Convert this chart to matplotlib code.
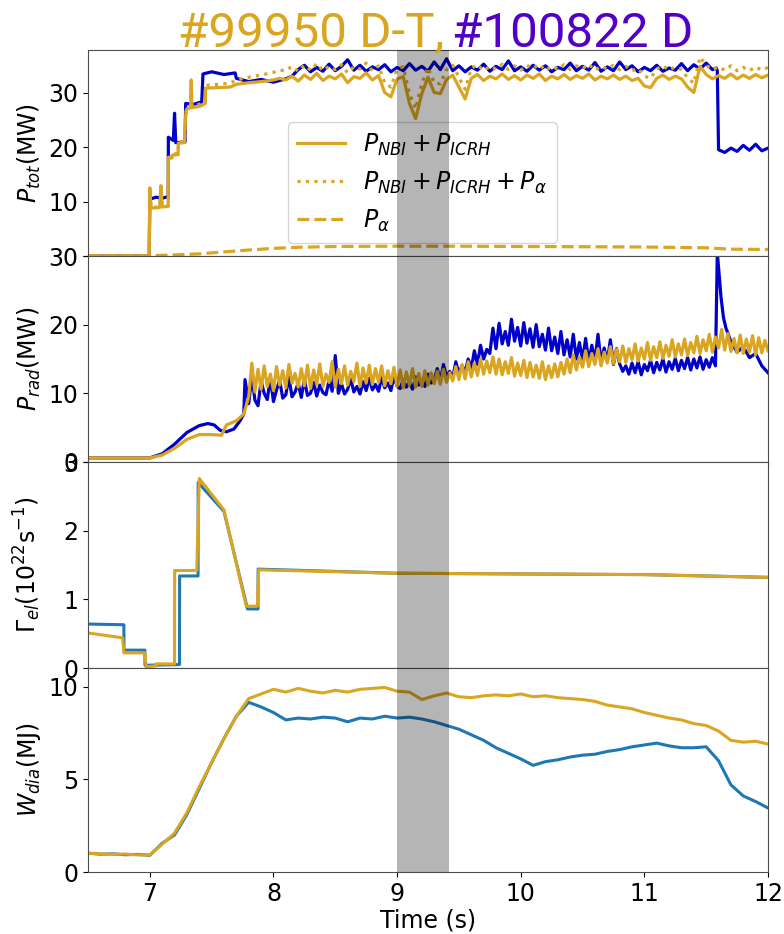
import matplotlib.pyplot as plt
import numpy as np

# ---- colours ----
gold = '#DAA520'
dblue = '#0000C8'
lblue = '#1f77b4'

# ---- P_tot, shot 100822 (D) ----
ptot_d_t_ramp = [6.5, 6.995, 7.0, 7.05, 7.1, 7.149, 7.15, 7.19, 7.2, 7.21, 7.285, 7.29, 7.35,
                 7.42, 7.43, 7.5, 7.6, 7.69, 7.7, 7.8, 7.9, 8.0, 8.1, 8.15]
ptot_d_ramp = [0, 0, 10.4, 10.8, 10.6, 10.9, 21.8, 21.2, 26.2, 20.8, 20.9, 28.0, 27.8,
               28.3, 33.4, 33.8, 33.3, 33.6, 32.6, 32.0, 32.4, 31.9, 32.5, 33.0]
ptot_d_grid = [34.2, 35.0, 33.8, 34.6, 33.9, 35.2, 34.0, 34.8, 36.0, 34.1, 35.0, 33.9, 34.7, 34.2,
               35.1, 33.8, 34.6, 34.0, 35.3, 34.1, 34.8, 33.9, 35.6, 34.2, 36.2, 34.0, 34.9, 33.8,
               34.7, 34.1, 35.2, 33.9, 34.8, 34.2, 35.8, 34.0, 34.7, 33.9, 35.0, 34.1, 34.9, 33.8,
               34.6, 34.2, 35.4, 34.0, 34.8, 34.1, 35.5, 33.9, 34.7, 34.0, 35.6, 34.2, 34.9, 33.8,
               34.6, 34.0, 35.0, 33.9, 34.5, 34.1, 35.3, 34.0, 35.1, 34.3, 35.4, 34.2]  # 8.20 .. step 0.05
ptot_d_t_tail = [11.58, 11.59, 11.6, 11.65, 11.7, 11.75, 11.8, 11.85, 11.9, 11.95, 12.0]
ptot_d_tail = [34.5, 34.0, 19.5, 19.0, 19.8, 19.2, 20.3, 19.4, 20.5, 19.3, 19.8]

# ---- P_NBI + P_ICRH (+ P_alpha), shot 99950 (D-T) ----
ptot_dt_t_ramp = [6.5, 6.995, 7.0, 7.01, 7.08, 7.09, 7.1, 7.149, 7.15, 7.18, 7.181, 7.229, 7.23,
                  7.28, 7.29, 7.3, 7.33, 7.335, 7.34, 7.41, 7.449, 7.45, 7.55, 7.65, 7.7, 7.8,
                  7.9, 8.0, 8.05]
pnbi_icrh_ramp = [0, 0, 12.4, 8.8, 8.9, 12.8, 9.0, 9.1, 17.9, 18.0, 18.5, 18.6, 20.7, 20.8,
                  25.9, 27.0, 27.2, 32.0, 27.2, 27.5, 28.0, 30.8, 30.9, 31.0, 31.5, 31.8, 32.0,
                  32.3, 32.6]
pnbi_icrh_grid = [32.3, 33.0, 32.1, 33.2, 32.4, 33.5, 32.2, 33.0, 32.5, 33.4, 31.8, 32.9, 32.6,
                  33.6, 32.3, 33.1, 30.0, 29.2, 32.5, 32.9, 28.0, 25.2, 29.8, 32.8, 30.0, 29.8,
                  32.4, 33.2, 31.0, 28.8, 32.6, 33.3, 32.2, 33.0, 32.5, 33.4, 32.4, 33.1, 32.3,
                  33.2, 32.6, 33.4, 32.2, 33.0, 32.5, 33.3, 32.4, 33.1, 32.6, 33.4, 32.3, 33.0,
                  32.5, 33.2, 32.4, 33.0, 32.2, 32.6, 31.2, 30.9, 32.6, 33.2, 32.4, 33.0, 32.5,
                  31.0, 30.0, 34.8, 33.3, 32.5, 33.1, 32.6, 33.4, 32.5, 33.2, 32.6, 33.3, 32.7,
                  33.2]  # 8.10 .. 12.00 step 0.05
ptot_alpha_ramp = [0, 0, 12.5, 8.9, 9.0, 12.9, 9.1, 9.2, 18.1, 18.2, 18.7, 18.8, 20.9, 21.0,
                   26.2, 27.3, 27.5, 32.3, 27.5, 27.9, 28.4, 31.3, 31.5, 31.7, 32.3, 32.8, 33.2,
                   33.7, 34.1]
ptot_alpha_grid = [34.0, 34.8, 33.9, 35.0, 34.1, 35.3, 34.0, 34.8, 34.2, 35.1, 33.6, 34.7, 34.3,
                   35.4, 34.0, 34.9, 31.8, 31.0, 34.3, 34.7, 29.8, 27.0, 31.6, 34.6, 31.8, 31.6,
                   34.2, 35.0, 32.8, 30.6, 34.4, 35.1, 34.0, 34.8, 34.3, 35.2, 34.2, 34.9, 34.1,
                   35.0, 34.4, 35.2, 34.0, 34.8, 34.3, 35.1, 34.2, 34.9, 34.4, 35.2, 34.1, 34.8,
                   34.3, 35.0, 34.2, 34.8, 34.0, 34.4, 33.0, 32.6, 34.3, 34.9, 34.1, 34.7, 34.2,
                   32.7, 31.7, 36.5, 35.0, 34.2, 34.7, 34.1, 34.9, 34.0, 34.6, 34.0, 34.7, 34.1,
                   34.6]
palpha_t = [6.5, 7.0, 7.2, 7.4, 7.6, 7.8, 8.0, 8.2, 8.5, 9.0, 9.5, 10.0, 10.5, 11.0, 11.5, 11.7, 12.0]
palpha = [0, 0.05, 0.2, 0.4, 0.75, 1.1, 1.4, 1.6, 1.75, 1.8, 1.8, 1.75, 1.7, 1.65, 1.5, 1.25, 1.2]

# ---- P_rad ----
prad_d_t_ramp = [6.5, 7.0, 7.1, 7.2, 7.3, 7.4, 7.47, 7.52, 7.57, 7.62, 7.68, 7.73, 7.76, 7.77]
prad_d_ramp = [0.6, 0.6, 1.2, 2.6, 4.3, 5.3, 5.6, 5.4, 4.6, 4.4, 4.8, 6.0, 7.0, 12.0]
prad_d_grid = [  # 7.800 .. 11.575 step 0.025
    8.5, 12.6, 9.0, 8.2, 11.8, 10.0, 9.1, 12.3, 8.8, 10.5, 11.9, 9.3, 9.8, 12.4, 9.5, 10.2, 11.5, 9.4, 12.0, 9.7,
    10.0, 11.6, 9.6, 11.2, 10.1, 9.8, 11.9, 10.3, 15.5, 10.0, 11.4, 9.9, 10.6, 12.1, 10.2, 11.0, 9.9, 11.7, 10.4, 12.2,
    10.5, 11.3, 10.3, 12.3, 10.8, 11.5, 10.4, 12.5, 11.0, 10.7, 12.0, 10.9, 11.6, 10.6, 12.4, 11.2, 11.8, 11.0, 12.8, 11.5,
    12.0, 13.6, 11.8, 14.2, 12.4, 13.2, 12.2, 14.6, 12.9, 14.0, 13.1, 15.0, 13.6, 16.2, 14.2, 17.0, 15.0, 16.4, 15.8, 19.5,
    16.5, 20.2, 17.2, 19.0, 17.0, 20.8, 17.6, 19.6, 16.9, 20.3, 17.3, 19.4, 16.7, 20.0, 16.8, 18.6, 16.3, 19.5, 16.2, 18.2,
    15.8, 19.0, 15.6, 17.8, 15.3, 18.6, 15.0, 17.4, 14.8, 18.0, 14.6, 17.0, 14.7, 18.6, 14.5, 16.6, 14.6, 17.8, 14.2, 16.5,
    14.3, 13.2, 14.0, 12.8, 14.4, 13.0, 14.6, 12.7, 14.2, 13.3, 14.8, 13.0, 14.5, 13.4, 15.0, 13.1, 14.6, 13.5, 15.1, 13.3,
    14.8, 13.6, 15.2, 13.4, 15.0, 13.7, 15.3, 13.5, 14.9, 13.8, 15.2, 14.0]
prad_d_t_tail = [11.59, 11.62, 11.64, 11.66, 11.7, 11.75, 11.8, 11.85, 11.9, 11.95, 12.0]
prad_d_tail = [30.5, 24.0, 21.0, 19.5, 17.5, 16.0, 16.8, 15.2, 15.8, 14.0, 13.0]

prad_dt_t_ramp = [6.5, 7.0, 7.1, 7.2, 7.3, 7.4, 7.5, 7.58, 7.62, 7.7, 7.76]
prad_dt_ramp = [0.6, 0.6, 1.0, 2.0, 3.3, 4.0, 4.0, 3.9, 5.4, 6.0, 7.0]
prad_dt_grid = [  # 7.800 .. 12.000 step 0.025
    9.5, 14.4, 10.2, 13.5, 10.6, 14.0, 11.0, 12.8, 10.4, 13.9, 11.2, 13.3, 10.8, 14.2, 11.5, 12.9, 10.9, 13.6, 11.1, 14.1,
    10.7, 13.4, 11.3, 14.3, 11.0, 12.8, 11.6, 14.6, 10.9, 13.5, 11.4, 14.0, 11.2, 13.2, 11.7, 14.4, 11.0, 13.7, 11.5, 14.1,
    11.3, 13.6, 11.6, 14.0, 11.1, 13.3, 11.4, 13.8, 11.0, 13.4, 10.8, 13.1, 11.2, 13.6, 10.9, 12.9, 11.0, 13.3, 11.2, 13.0,
    11.4, 13.2, 11.3, 13.5, 11.6, 13.0, 11.8, 13.9, 12.0, 14.2, 12.1, 14.6, 12.4, 14.4, 12.6, 15.0, 12.8, 14.7, 13.0, 15.3,
    12.8, 15.0, 12.7, 14.6, 12.9, 15.2, 12.5, 14.4, 12.6, 14.8, 12.3, 14.5, 12.4, 14.1, 12.2, 14.6, 12.0, 14.0, 12.3, 14.3,
    12.4, 14.5, 12.8, 15.0, 13.0, 15.6, 13.4, 15.3, 13.8, 16.2, 13.9, 15.8, 14.2, 16.5, 14.0, 16.0, 14.4, 16.8, 14.3, 16.4,
    14.6, 16.9, 14.5, 16.5, 14.9, 17.2, 14.7, 16.6, 15.0, 17.4, 14.8, 16.8, 15.2, 17.5, 15.1, 17.0, 15.4, 17.8, 15.3, 17.2,
    15.6, 17.9, 15.5, 17.4, 15.9, 18.3, 15.8, 17.8, 16.2, 18.6, 16.0, 18.2, 16.6, 19.3, 16.3, 18.7, 16.1, 18.0, 15.9, 18.5,
    15.8, 17.9, 16.0, 18.4, 15.6, 18.1, 15.9, 17.7, 16.2]

# ---- electron fuelling rate ----
gam_d_t = [6.5, 6.79, 6.791, 6.96, 6.961, 7.24, 7.241, 7.39, 7.391, 7.6, 7.79, 7.875, 7.876,
           9.0, 10.0, 11.0, 12.0]
gam_d = [0.64, 0.63, 0.26, 0.26, 0.04, 0.05, 1.34, 1.34, 2.7, 2.28, 0.86, 0.86, 1.44, 1.38,
         1.37, 1.36, 1.32]
gam_dt_t = [6.5, 6.78, 6.79, 6.96, 6.97, 7.05, 7.051, 7.2, 7.201, 7.38, 7.4, 7.6, 7.78, 7.87,
            7.88, 9.0, 10.0, 11.0, 12.0]
gam_dt = [0.51, 0.44, 0.22, 0.22, 0.02, 0.03, 0.06, 0.06, 1.42, 1.42, 2.76, 2.3, 0.9, 0.9, 1.43,
          1.38, 1.37, 1.36, 1.32]

# ---- diamagnetic energy, 6.5 .. 12.0 step 0.1 ----
wdia_dt = [1.0, 0.98, 0.95, 0.97, 0.92, 0.92, 1.5, 2.1, 3.2, 4.6, 5.9, 7.2, 8.4, 9.35, 9.6, 9.85,
           9.7, 9.9, 9.75, 9.65, 9.8, 9.7, 9.85, 9.9, 9.95, 9.75, 9.7, 9.3, 9.5, 9.65, 9.45, 9.4,
           9.5, 9.55, 9.5, 9.6, 9.45, 9.5, 9.4, 9.35, 9.3, 9.2, 9.0, 8.9, 8.8, 8.6, 8.45, 8.3,
           8.2, 8.0, 7.9, 7.6, 7.1, 7.0, 7.05, 6.9]
wdia_d = [1.02, 0.96, 0.98, 0.93, 0.95, 0.9, 1.55, 2.0, 3.1, 4.5, 5.9, 7.2, 8.4, 9.15, 8.9, 8.6,
          8.2, 8.3, 8.25, 8.35, 8.3, 8.1, 8.3, 8.25, 8.4, 8.3, 8.35, 8.25, 8.1, 7.9, 7.7, 7.4,
          7.1, 6.7, 6.4, 6.1, 5.75, 5.95, 6.05, 6.2, 6.3, 6.35, 6.5, 6.6, 6.75, 6.85, 6.95, 6.8,
          6.7, 6.7, 6.75, 6.0, 4.7, 4.1, 3.8, 3.45]


def grid(t0, vals, dt=0.05):
    return t0 + dt * np.arange(len(vals))


if __name__ == "__main__":
    plt.rcParams['font.size'] = 17
    plt.rcParams['axes.edgecolor'] = '0.3'

    fig = plt.figure(figsize=(7.84, 9.34), dpi=100)
    W, H = 784, 934
    tops = [50, 256, 462, 668]
    hts = [206, 206, 206, 204]
    axes = []
    for top, h in zip(tops, hts):
        ax = fig.add_axes([88 / W, 1 - (top + h) / H, 680 / W, h / H],
                          sharex=axes[0] if axes else None)
        axes.append(ax)
    ax1, ax2, ax3, ax4 = axes

    # P_tot
    ax1.plot(np.concatenate([ptot_d_t_ramp, grid(8.2, ptot_d_grid), ptot_d_t_tail]),
             np.concatenate([ptot_d_ramp, ptot_d_grid, ptot_d_tail]), color=dblue, lw=2.3)
    t_dt = np.concatenate([ptot_dt_t_ramp, grid(8.1, pnbi_icrh_grid)])
    l1, = ax1.plot(t_dt, np.concatenate([pnbi_icrh_ramp, pnbi_icrh_grid]), color=gold, lw=2.3)
    l2, = ax1.plot(t_dt, np.concatenate([ptot_alpha_ramp, ptot_alpha_grid]), color=gold, lw=2.3, ls=':')
    l3, = ax1.plot(palpha_t, palpha, color=gold, lw=2.3, ls='--')
    ax1.set_ylim(0, 37.8)
    ax1.set_yticks([0, 10, 20, 30])
    ax1.set_yticklabels(['', '10', '20', '30'])
    ax1.set_ylabel(r'$P_{tot}$(MW)')
    ax1.legend([l1, l2, l3], [r'$P_{NBI}+P_{ICRH}$', r'$P_{NBI}+P_{ICRH}+P_{\alpha}$', r'$P_{\alpha}$'],
               loc='lower left', bbox_to_anchor=(0.294, 0.063), borderaxespad=0)

    # P_rad
    ax2.plot(np.concatenate([prad_d_t_ramp, grid(7.8, prad_d_grid, 0.025), prad_d_t_tail]),
             np.concatenate([prad_d_ramp, prad_d_grid, prad_d_tail]), color=dblue, lw=2.3)
    ax2.plot(np.concatenate([prad_dt_t_ramp, grid(7.8, prad_dt_grid, 0.025)]),
             np.concatenate([prad_dt_ramp, prad_dt_grid]), color=gold, lw=2.3)
    ax2.set_ylim(0, 30)
    ax2.set_ylabel(r'$P_{rad}$(MW)')

    # Gamma
    ax3.plot(gam_d_t, gam_d, color=lblue, lw=2.2)
    ax3.plot(gam_dt_t, gam_dt, color=gold, lw=2.2)
    ax3.set_ylim(0, 3)
    ax3.set_ylabel(r'$\Gamma_{el}(10^{22}\mathrm{s}^{-1})$')

    # W_dia
    t_w = 6.5 + 0.1 * np.arange(len(wdia_d))
    ax4.plot(t_w, wdia_d, color=lblue, lw=2.2)
    ax4.plot(t_w, wdia_dt, color=gold, lw=2.2)
    ax4.set_ylim(0, 11)
    ax4.set_ylabel(r'$W_{dia}$(MJ)')
    ax4.set_xlabel('Time (s)', labelpad=2)
    ax4.set_xlim(6.5, 12)
    ax4.set_xticks([7, 8, 9, 10, 11, 12])

    for ax in axes:
        ax.axvspan(9.0, 9.42, color='k', alpha=0.29, lw=0, zorder=10)
        ax.yaxis.set_label_coords(-0.066, 0.5)
    for ax in axes[:3]:
        ax.tick_params(labelbottom=False)

    fig.text(178 / W, 1 - 47 / H, '#99950 D-T,', color=gold, fontsize=35.5, family='Roboto',
             ha='left', va='baseline')
    fig.text(452 / W, 1 - 47 / H, '#100822 D', color='#5200C8', fontsize=35.5, family='Roboto',
             ha='left', va='baseline')

    fig.savefig('out.png', dpi=100)
